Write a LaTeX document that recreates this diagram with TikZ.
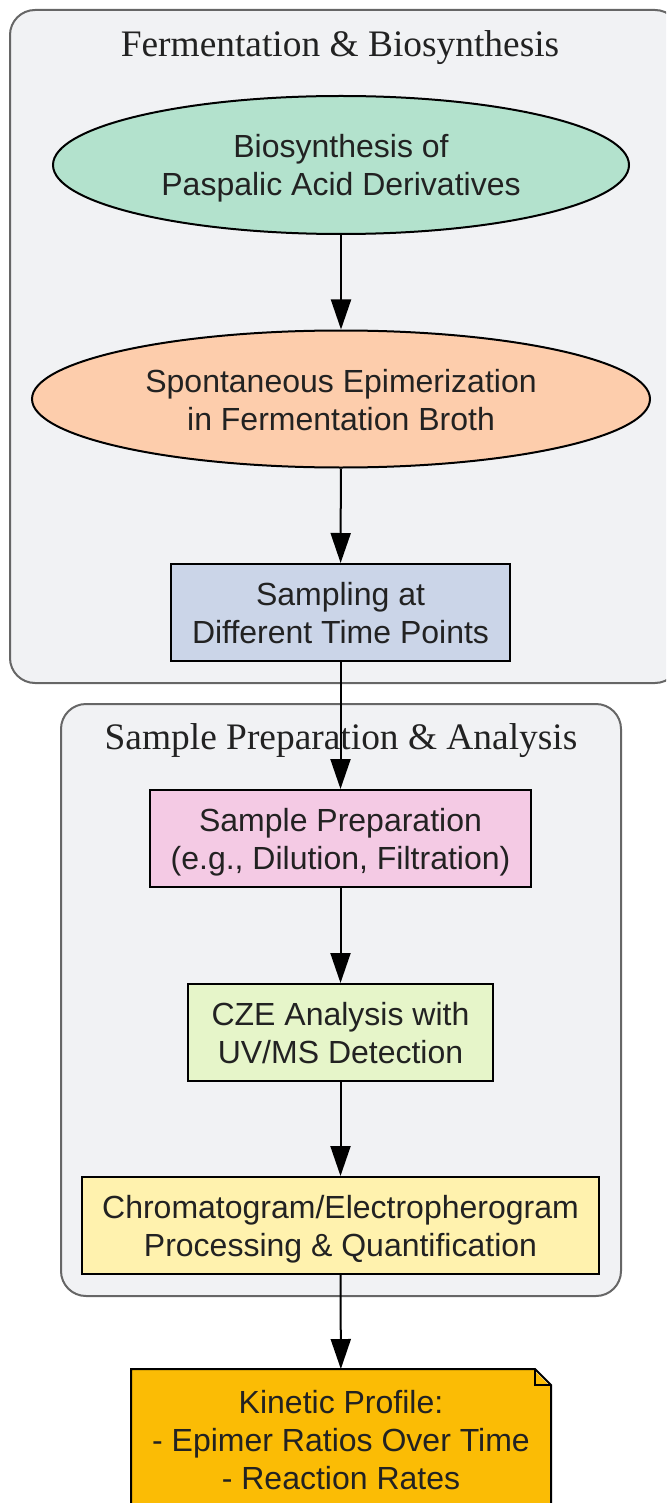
\documentclass[tikz,border=0pt]{standalone}
\usepackage{fontspec}
\setmainfont{Liberation Sans}
\newfontfamily\titlefont{Liberation Serif}
\usetikzlibrary{shapes.geometric,arrows.meta}
\definecolor{clfill}{HTML}{F1F2F4}
\definecolor{clline}{HTML}{666666}
\definecolor{txt}{HTML}{222222}
\definecolor{cA}{HTML}{B3E2CD}
\definecolor{cB}{HTML}{FDCDAC}
\definecolor{cC}{HTML}{CBD5E8}
\definecolor{cD}{HTML}{F4CAE4}
\definecolor{cE}{HTML}{E6F5C9}
\definecolor{cF}{HTML}{FFF2AE}
\definecolor{cG}{HTML}{FBBC05}
\newcommand\topS{\rule{0pt}{31pt}}
\newcommand\botS{\rule[-7pt]{0pt}{7pt}}
\tikzset{
  cluster/.style={draw=clline, fill=clfill, line width=2pt, rounded corners=25pt},
  ctitle/.style={font=\titlefont\fontsize{37.4}{42}\selectfont, text=txt, inner sep=0pt},
  base/.style={draw=black, line width=2pt, inner sep=0pt, align=center, text=txt,
    font=\fontsize{32}{38}\selectfont},
  ell/.style={base, ellipse},
  boxnode/.style={base, rectangle},
  arr/.style={line width=2pt, -{Triangle[length=30pt,width=20pt]}},
}
\begin{document}
\begin{tikzpicture}[x=1pt,y=-1pt]
\useasboundingbox (0,0) rectangle (666,1503);
\clip (0,0) rectangle (666,1503);
% clusters
\draw[cluster] (10,10) rectangle (680,683);
\node[ctitle] (t1) at (340,48) {Fermentation \& Biosynthesis};
\draw[cluster] (61,704) rectangle (621,1296);
\node[ctitle] (t2) at (341,741) {Sample Preparation \& Analysis};
% nodes
\node[ell, fill=cA, minimum width=576, minimum height=138] (bio) at (341,165)
  {\topS Biosynthesis of\\Paspalic Acid Derivatives\botS};
\node[ell, fill=cB, minimum width=618, minimum height=137] (epi) at (341,399)
  {\topS Spontaneous Epimerization\\in Fermentation Broth\botS};
\node[boxnode, fill=cC, minimum width=339, minimum height=97] (samp) at (340.5,612.5)
  {\topS Sampling at\\Different Time Points\botS};
\node[boxnode, fill=cD, minimum width=381, minimum height=97] (prep) at (340.5,838.5)
  {\topS Sample Preparation\\(e.g., Dilution, Filtration)\botS};
\node[boxnode, fill=cE, minimum width=305, minimum height=97] (cze) at (340.5,1032.5)
  {\topS CZE Analysis with\\UV/MS Detection\botS};
\node[boxnode, fill=cF, minimum width=517, minimum height=97] (chrom) at (340.5,1225.5)
  {\topS Chromatogram/Electropherogram\\Processing \& Quantification\botS};
\coordinate (kc) at (341,1439);
\fill[cG] ([shift={(-209,-69)}]kc) -- ([shift={(193,-69)}]kc) -- ([shift={(209,-53)}]kc) -- ([shift={(209,69)}]kc) -- ([shift={(-209,69)}]kc) -- cycle;
\node[base, minimum width=418, minimum height=138, draw=none] (kin) at (kc)
  {\topS Kinetic Profile:\\- Epimer Ratios Over Time\\- Reaction Rates\botS};
\draw[line width=2pt, line join=miter] (kin.south west) -- (kin.north west) -- ([xshift=-16pt]kin.north east) -- ([yshift=-16pt]kin.north east) -- (kin.south east);
\draw[line width=2pt] ([xshift=-16pt]kin.north east) -- ([xshift=-16pt,yshift=-16pt]kin.north east) -- ([yshift=-16pt]kin.north east);
% edges
\draw[arr] (bio) -- (epi);
\draw[arr] (epi) -- (samp);
\draw[arr] (samp) -- (prep);
\draw[arr] (prep) -- (cze);
\draw[arr] (cze) -- (chrom);
\draw[arr] (chrom) -- (kin);
\end{tikzpicture}
\end{document}
